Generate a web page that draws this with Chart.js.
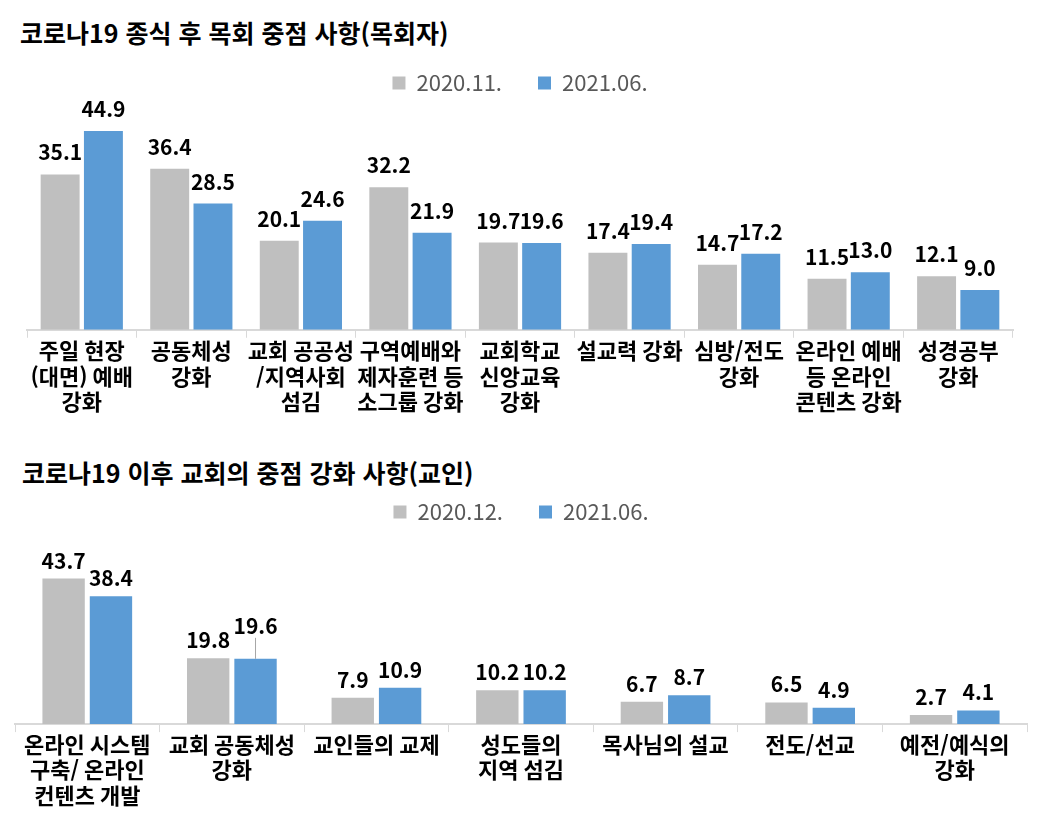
<!DOCTYPE html>
<html lang="ko">
<head>
<meta charset="utf-8">
<script src="https://cdn.jsdelivr.net/npm/chart.js@4"></script>
<style>
  body { margin: 0; background: #fff; font-family: "Noto Sans CJK KR", sans-serif; }
  .wrap { position: absolute; left: 0; width: 1038px; }
  .ttl { position: absolute; font-weight: bold; font-size: 25px; line-height: 30px; color: #000; white-space: nowrap; }
</style>
</head>
<body>
<div class="ttl" style="left:20px; top:17px;">코로나19 종식 후 목회 중점 사항(목회자)</div>
<div class="wrap" style="top:0; height:440px;"><canvas id="pastorChart"></canvas></div>
<div class="ttl" style="left:22px; top:457px;">코로나19 이후 교회의 중점 강화 사항(교인)</div>
<div class="wrap" style="top:440px; height:379px;"><canvas id="memberChart"></canvas></div>
<script>
const pastorLabels = [
  ["주일 현장", "(대면) 예배", "강화"],
  ["공동체성", "강화"],
  ["교회 공공성", "/지역사회", "섬김"],
  ["구역예배와", "제자훈련 등", "소그룹 강화"],
  ["교회학교", "신앙교육", "강화"],
  ["설교력 강화"],
  ["심방/전도", "강화"],
  ["온라인 예배", "등 온라인", "콘텐츠 강화"],
  ["성경공부", "강화"],
];
const pastor2020 = [35.1, 36.4, 20.1, 32.2, 19.7, 17.4, 14.7, 11.5, 12.1];
const pastor2021 = [44.9, 28.5, 24.6, 21.9, 19.6, 19.4, 17.2, 13.0, 9.0];

const memberLabels = [
  ["온라인 시스템", "구축/ 온라인", "컨텐츠 개발"],
  ["교회 공동체성", "강화"],
  ["교인들의 교제"],
  ["성도들의", "지역 섬김"],
  ["목사님의 설교"],
  ["전도/선교"],
  ["예전/예식의", "강화"],
];
const member2020 = [43.7, 19.8, 7.9, 10.2, 6.7, 6.5, 2.7];
const member2021 = [38.4, 19.6, 10.9, 10.2, 8.7, 4.9, 4.1];

const GRAY = "#bfbfbf";
const BLUE = "#5b9bd5";
const FONT = "'Noto Sans CJK KR', sans-serif";

// values above each bar, some lifted with a small leader line
const valueLabels = {
  id: "valueLabels",
  afterDatasetsDraw(chart, args, opts) {
    const ctx = chart.ctx;
    ctx.save();
    ctx.font = "bold 21px " + FONT;
    ctx.fillStyle = "#000";
    ctx.textAlign = "center";
    ctx.textBaseline = "middle";
    chart.data.datasets.forEach((ds, i) => {
      chart.getDatasetMeta(i).data.forEach((bar, j) => {
        const lift = (opts.lifts || []).find((l) => l.ds === i && l.idx === j);
        let y = bar.y - opts.offset;
        if (lift) {
          y -= lift.dy;
          ctx.strokeStyle = "#a6a6a6";
          ctx.lineWidth = 1;
          ctx.beginPath();
          ctx.moveTo(bar.x, y + 12);
          ctx.lineTo(bar.x, bar.y);
          ctx.stroke();
        }
        ctx.fillText(ds.data[j].toFixed(1), bar.x, y);
      });
    });
    ctx.restore();
  },
};

function makeChart(id, labels, names, a, b, cfg) {
  return new Chart(id, {
    type: "bar",
    data: {
      labels,
      datasets: [
        { label: names[0], data: a, backgroundColor: GRAY, categoryPercentage: cfg.catPct, barPercentage: cfg.barPct },
        { label: names[1], data: b, backgroundColor: BLUE, categoryPercentage: cfg.catPct, barPercentage: cfg.barPct },
      ],
    },
    options: {
      responsive: true,
      maintainAspectRatio: false,
      animation: false,
      layout: { padding: cfg.pad },
      plugins: {
        title: { display: false },
        tooltip: { enabled: false },
        valueLabels: { offset: cfg.labelOffset, lifts: cfg.lifts },
        legend: {
          position: "top",
          labels: {
            boxWidth: 13,
            boxHeight: 13,
            padding: 36,
            color: "#595959",
            font: { family: FONT, size: 22 },
          },
        },
      },
      scales: {
        x: {
          grid: { offset: true, drawOnChartArea: false, tickLength: 8, color: "#d9d9d9" },
          border: { color: "#d9d9d9", width: 2 },
          ticks: {
            color: "#000",
            padding: 0,
            maxRotation: 0,
            autoSkip: false,
            font: { family: FONT, size: 22, weight: "bold", lineHeight: cfg.lineH },
          },
        },
        y: { display: false, min: 0, max: cfg.yMax },
      },
    },
    plugins: [valueLabels],
  });
}

makeChart("pastorChart", pastorLabels, ["2020.11.", "2021.06."], pastor2020, pastor2021, {
  pad: { top: 36, left: 27, right: 25, bottom: 25 },
  catPct: 0.79, barPct: 0.9, lineH: 1.17, yMax: 51, labelOffset: 22, lifts: [],
});
makeChart("memberChart", memberLabels, ["2020.12.", "2021.06."], member2020, member2021, {
  pad: { top: 25, left: 15, right: 11, bottom: 11 },
  catPct: 0.655, barPct: 0.895, lineH: 1.15, yMax: 57.4, labelOffset: 18,
  lifts: [{ ds: 1, idx: 1, dy: 15 }],
});
</script>
</body>
</html>
